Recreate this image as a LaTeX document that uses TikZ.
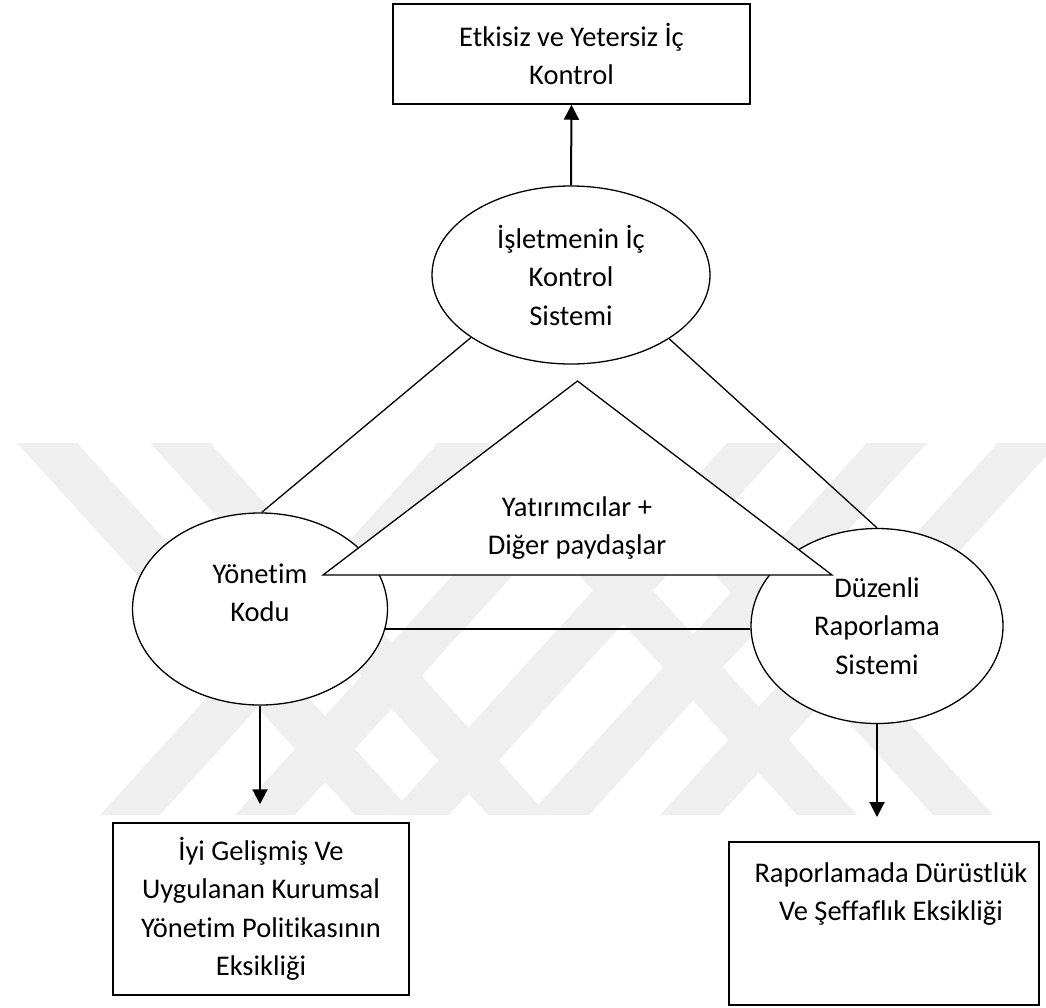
\documentclass[tikz,border=0pt]{standalone}
\usepackage{fontspec}
\setmainfont{Carlito}[Ligatures=NoCommon]
\usetikzlibrary{shapes.geometric,arrows.meta,calc}

\definecolor{markgray}{HTML}{EFEFEF}

\tikzset{
  every node/.style={font=\fontsize{28.5}{38.5}\selectfont, align=center},
  boxnode/.style={draw, line width=1.5pt, fill=white, inner sep=0pt},
  ellnode/.style={draw, ellipse, line width=1.3pt, fill=white, inner sep=0pt},
  link/.style={line width=1.3pt},
  arr/.style={line width=2pt, -{Triangle[length=15pt,width=15pt]}},
  band/.style={fill=markgray, draw=none},
}

% a background band between y=443 and y=815, leaning right (\) or left (/)
\newcommand{\bandback}[1]{\fill[band] (#1,443) -- ++(60,0) -- ++(338,372) -- ++(-60,0) -- cycle;}
\newcommand{\bandfwd}[1]{\fill[band] (#1,815) -- ++(60,0) -- ++(338,-372) -- ++(-60,0) -- cycle;}

\begin{document}
\begin{tikzpicture}[x=1pt, y=-1pt]
  \useasboundingbox (0,0) rectangle (1046,1007);

  % faint background mark
  \begin{scope}
    \clip (0,0) rectangle (1046,1007);
    \bandback{17}  \bandback{150} \bandback{459} \bandback{595}
    \bandfwd{100}  \bandfwd{235}  \bandfwd{389}  \bandfwd{529} \bandfwd{660}
  \end{scope}

  % outcome boxes
  \node[boxnode, minimum width=357pt, minimum height=100pt] (topbox) at (571.5,54)
    {Etkisiz ve Yetersiz İç\\Kontrol};
  \node[boxnode, minimum width=296pt, minimum height=172pt] (lbox) at (261,909)
    {İyi Gelişmiş Ve\\Uygulanan Kurumsal\\Yönetim Politikasının\\Eksikliği};
  \node[boxnode, minimum width=310pt, minimum height=163pt] (rbox) at (884,923.5) {};
  \node (rboxtext) at (891,894) {Raporlamada Dürüstlük\\Ve Şeffaflık Eksikliği};

  % the three systems
  \node[ellnode, minimum width=278pt, minimum height=178pt] (top) at (571,275)
    {İşletmenin İç\\Kontrol\\Sistemi};
  \node[ellnode, minimum width=255pt, minimum height=192pt] (left) at (260,609) {};
  \node (lefttext) at (260,593) {Yönetim\\Kodu};
  \node[ellnode, minimum width=252pt, minimum height=195pt] (right) at (877,626)
    {Düzenli\\Raporlama\\Sistemi};

  % connections between the systems
  \draw[link] (top.212.7) -- (left.89);
  \draw[link] (top.-33) -- (right.90);
  \draw[link] (left.-9.6) -- (left.-9.6 -| right.west);

  % stakeholders in the middle
  \coordinate (apex) at (577.5,381);
  \coordinate (tl) at (323,575);
  \coordinate (tr) at (832,575);
  \draw[link, fill=white] (apex) -- (tl) -- (tr) -- cycle;
  \node (stake) at (577,528) {Yatırımcılar +\\Diğer paydaşlar};

  % consequences
  \coordinate (lend) at ($(lbox.north)+(-1,-18)$);
  \coordinate (rend) at (877,817);
  \draw[arr] (top.north) -- (topbox.south);
  \draw[arr] (left.south) -- (lend);
  \draw[arr] (right.south) -- (rend);
\end{tikzpicture}
\end{document}
